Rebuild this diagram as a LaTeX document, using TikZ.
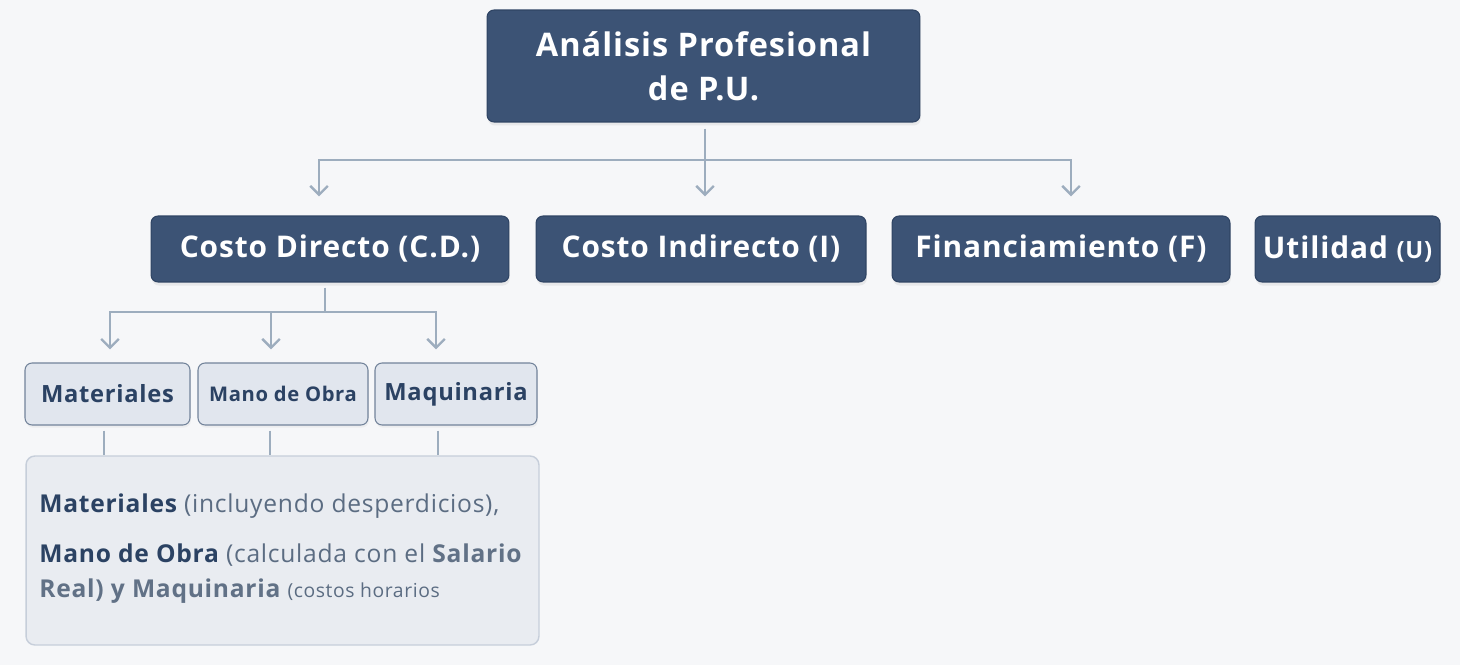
\documentclass[tikz,border=0pt]{standalone}
\usepackage{fontspec}
\setmainfont{Open Sans}[LetterSpace=3]
\usetikzlibrary{positioning,arrows.meta,shadows}

\definecolor{navy}{HTML}{3C5375}
\definecolor{navyline}{HTML}{2F4464}
\definecolor{paper}{HTML}{F6F7F9}
\definecolor{wire}{HTML}{9DADBE}
\definecolor{pale}{HTML}{E1E6EE}
\definecolor{paleline}{HTML}{72839A}
\definecolor{note}{HTML}{E9ECF1}
\definecolor{noteline}{HTML}{C6CEDA}
\definecolor{ink}{HTML}{2B4263}
\definecolor{greyink}{HTML}{5B6C82}
\definecolor{softink}{HTML}{617186}

\tikzset{
  main/.style={draw=navyline, fill=navy, text=white, rounded corners=4pt,
    line width=0.6pt, font=\bfseries\fontsize{17}{20}\selectfont,
    drop shadow={opacity=0.12, shadow xshift=0.5pt, shadow yshift=-2pt}},
  sub/.style={draw=paleline, fill=pale, text=ink, rounded corners=4pt,
    line width=0.6pt, minimum height=1.24cm, font=\bfseries\fontsize{13.5}{16}\selectfont,
    drop shadow={opacity=0.08, shadow xshift=0.5pt, shadow yshift=-1.5pt}},
  link/.style={draw=wire, line width=1.4pt},
  arr/.style={link, -{Straight Barb[length=5pt, width=10pt, line width=1.4pt]}},
  txt/.style={anchor=base west, inner sep=0pt, text=greyink, font=\fontsize{14}{16}\selectfont}
}

\begin{document}
\begin{tikzpicture}[x=0.02cm, y=-0.02cm]
  \fill[paper] (0,0) rectangle (1460,665);
  \useasboundingbox (0,0) rectangle (1460,665);

  % top
  \node[main, minimum width=8.66cm, minimum height=2.24cm, align=center,
    font=\bfseries\fontsize{18.5}{25}\selectfont] (top) at (703.5,66)
    {Análisis Profesional\\de P.U.};

  % second row
  \node[main, minimum width=7.16cm, minimum height=1.32cm] (cd) at (330,249) {Costo Directo (C.D.)};
  \node[main, minimum width=6.6cm, minimum height=1.32cm] (ci) at (701,249) {Costo Indirecto (I)};
  \node[main, minimum width=6.76cm, minimum height=1.32cm] (fin) at (1061,249) {Financiamiento (F)};
  \node[main, minimum width=3.7cm, minimum height=1.32cm] (ut) at (1347.5,249)
    {Utilidad {\fontsize{13.5}{16}\selectfont(U)}};

  % third row
  \node[sub, minimum width=3.3cm] (mat) at (107.5,394) {Materiales};
  \node[sub, minimum width=3.4cm, font=\bfseries\fontsize{11.5}{14}\selectfont] (mo) at (283,394) {Mano de Obra};
  \node[sub, minimum width=3.24cm] (maq) at (456,394) {Maquinaria};

  % detail
  \node[draw=noteline, fill=note, rounded corners=5pt, line width=0.8pt,
    minimum width=10.26cm, minimum height=3.78cm] (det) at (282.5,550.5) {};
  \node[txt] (l1) at (39,512) {\textcolor{ink}{\bfseries Materiales} (incluyendo desperdicios),};
  \node[txt] (l2) at (39,562) {\textcolor{ink}{\bfseries Mano de Obra} (calculada con el \textcolor{softink}{\bfseries Salario}};
  \node[txt] (l3) at (39,597) {\textcolor{softink}{\bfseries Real) y Maquinaria} {\fontsize{11}{13}\selectfont(costos horarios}};

  % connectors
  \coordinate (tj) at (705,160);
  \coordinate (cj) at (325,312);
  \draw[link, shorten <=0.12cm] (tj |- top.south) -- (tj);
  \draw[arr, shorten >=0.38cm] (tj) -| ([xshift=-0.22cm]cd.north);
  \draw[arr, shorten >=0.38cm] (tj) -- (tj |- ci.north);
  \draw[arr, shorten >=0.38cm] (tj) -| ([xshift=0.2cm]fin.north);

  \draw[link, shorten <=0.1cm] (cj |- cd.south) -- (cj);
  \draw[arr, shorten >=0.26cm] (cj) -| ([xshift=0.05cm]mat.north);
  \draw[arr, shorten >=0.26cm] (cj) -| ([xshift=-0.24cm]mo.north);
  \draw[arr, shorten >=0.26cm] (cj) -| ([xshift=-0.4cm]maq.north);

  \draw[link, shorten <=0.1cm] ([xshift=-0.07cm]mat.south) -- ([xshift=-0.07cm]mat.south |- det.north);
  \draw[link, shorten <=0.1cm] ([xshift=-0.26cm]mo.south) -- ([xshift=-0.26cm]mo.south |- det.north);
  \draw[link, shorten <=0.1cm] ([xshift=-0.36cm]maq.south) -- ([xshift=-0.36cm]maq.south |- det.north);
\end{tikzpicture}
\end{document}
